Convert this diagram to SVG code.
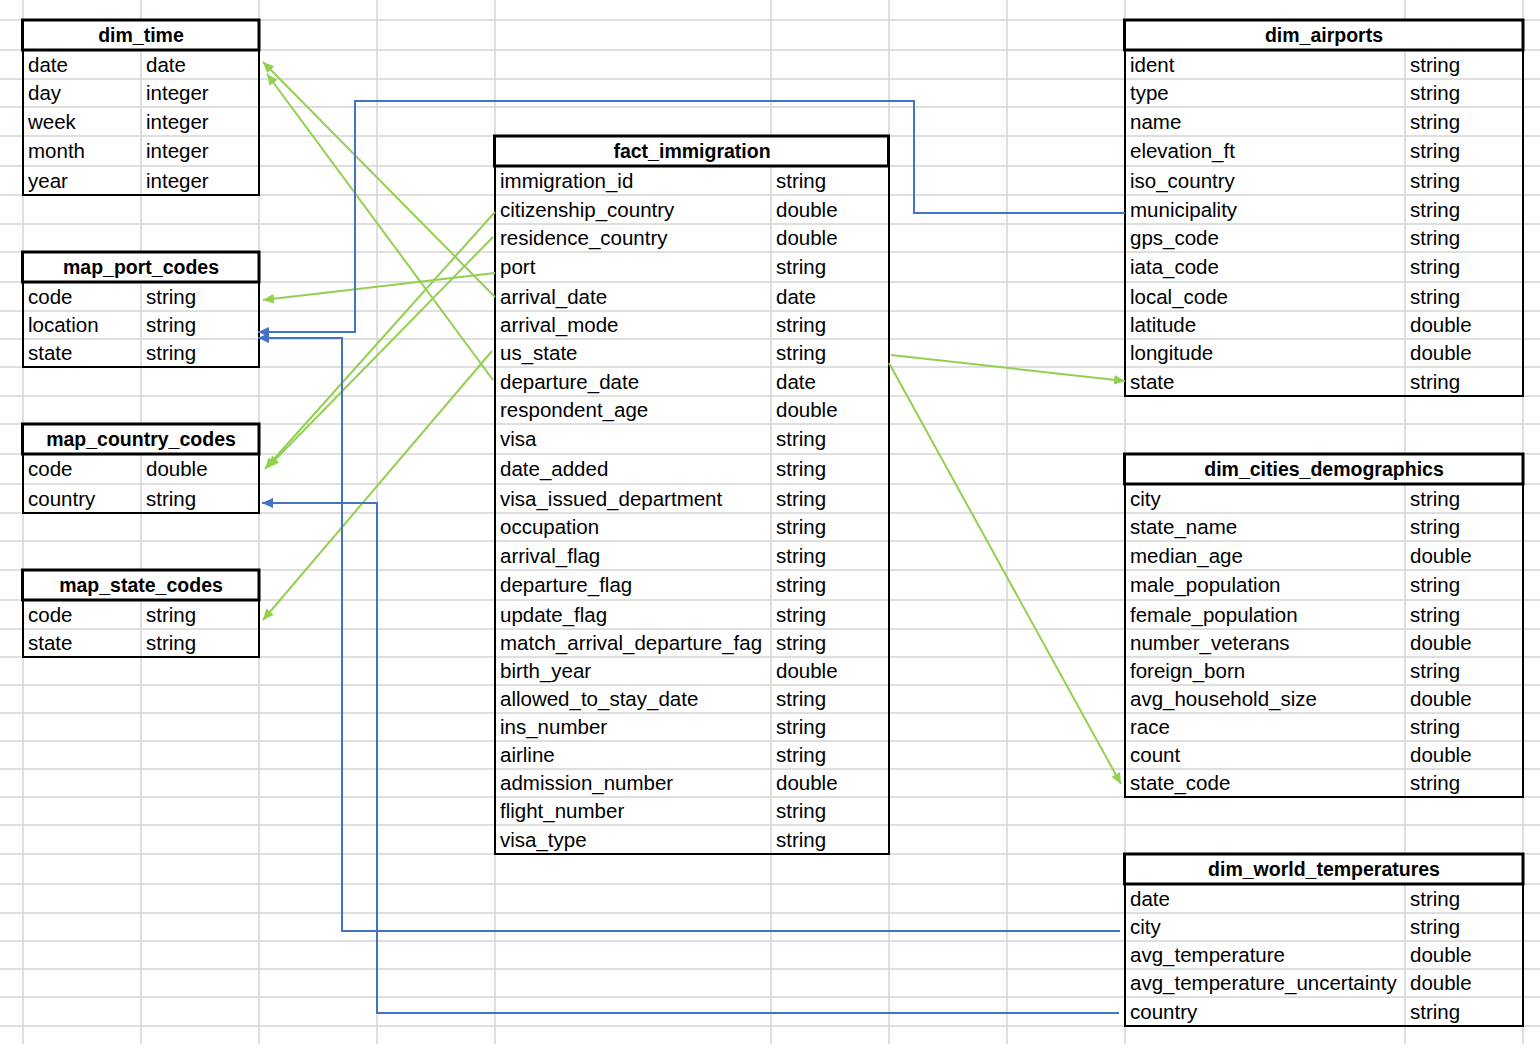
<svg xmlns="http://www.w3.org/2000/svg" width="1540" height="1044" viewBox="0 0 1540 1044">
  <style>
    .grid line { stroke: #d4d4d4; stroke-width: 1.5; }
    .hdr { fill: #ffffff; stroke: #000000; stroke-width: 3; }
    .body { fill: none; stroke: #000000; stroke-width: 2; }
    .t { font-family: "Liberation Sans", Arial, sans-serif; font-size: 20.5px; fill: #000000; }
    .h { font-family: "Liberation Sans", Arial, sans-serif; font-size: 19.5px; font-weight: bold; fill: #000000; text-anchor: middle; }
    .g { stroke: #92d050; stroke-width: 2; fill: none; marker-end: url(#arrowGreen); }
    .b { stroke: #4472c4; stroke-width: 2; fill: none; marker-end: url(#arrowBlue); }
  </style>
  <defs>
    <marker id="arrowGreen" markerUnits="userSpaceOnUse" markerWidth="12" markerHeight="10" refX="11" refY="5" orient="auto">
      <path d="M0,0 L11,5 L0,10 z" fill="#92d050"/>
    </marker>
    <marker id="arrowBlue" markerUnits="userSpaceOnUse" markerWidth="12" markerHeight="10" refX="11" refY="5" orient="auto">
      <path d="M0,0 L11,5 L0,10 z" fill="#4472c4"/>
    </marker>
  </defs>

  <rect x="0" y="0" width="1540" height="1044" fill="#ffffff"/>

  <!-- spreadsheet cell grid -->
  <g id="grid" class="grid">
    <line x1="23" y1="0" x2="23" y2="1044"/>
    <line x1="141" y1="0" x2="141" y2="1044"/>
    <line x1="259" y1="0" x2="259" y2="1044"/>
    <line x1="377" y1="0" x2="377" y2="1044"/>
    <line x1="495" y1="0" x2="495" y2="1044"/>
    <line x1="771" y1="0" x2="771" y2="1044"/>
    <line x1="889" y1="0" x2="889" y2="1044"/>
    <line x1="1007" y1="0" x2="1007" y2="1044"/>
    <line x1="1125" y1="0" x2="1125" y2="1044"/>
    <line x1="1405" y1="0" x2="1405" y2="1044"/>
    <line x1="1523" y1="0" x2="1523" y2="1044"/>
    <line x1="0" y1="20" x2="1540" y2="20"/>
    <line x1="0" y1="50" x2="1540" y2="50"/>
    <line x1="0" y1="79" x2="1540" y2="79"/>
    <line x1="0" y1="107" x2="1540" y2="107"/>
    <line x1="0" y1="136" x2="1540" y2="136"/>
    <line x1="0" y1="166" x2="1540" y2="166"/>
    <line x1="0" y1="195" x2="1540" y2="195"/>
    <line x1="0" y1="224" x2="1540" y2="224"/>
    <line x1="0" y1="252" x2="1540" y2="252"/>
    <line x1="0" y1="282" x2="1540" y2="282"/>
    <line x1="0" y1="311" x2="1540" y2="311"/>
    <line x1="0" y1="339" x2="1540" y2="339"/>
    <line x1="0" y1="367" x2="1540" y2="367"/>
    <line x1="0" y1="396" x2="1540" y2="396"/>
    <line x1="0" y1="424" x2="1540" y2="424"/>
    <line x1="0" y1="454" x2="1540" y2="454"/>
    <line x1="0" y1="484" x2="1540" y2="484"/>
    <line x1="0" y1="513" x2="1540" y2="513"/>
    <line x1="0" y1="541" x2="1540" y2="541"/>
    <line x1="0" y1="570" x2="1540" y2="570"/>
    <line x1="0" y1="600" x2="1540" y2="600"/>
    <line x1="0" y1="629" x2="1540" y2="629"/>
    <line x1="0" y1="657" x2="1540" y2="657"/>
    <line x1="0" y1="685" x2="1540" y2="685"/>
    <line x1="0" y1="713" x2="1540" y2="713"/>
    <line x1="0" y1="741" x2="1540" y2="741"/>
    <line x1="0" y1="769" x2="1540" y2="769"/>
    <line x1="0" y1="797" x2="1540" y2="797"/>
    <line x1="0" y1="825" x2="1540" y2="825"/>
    <line x1="0" y1="854" x2="1540" y2="854"/>
    <line x1="0" y1="884" x2="1540" y2="884"/>
    <line x1="0" y1="913" x2="1540" y2="913"/>
    <line x1="0" y1="941" x2="1540" y2="941"/>
    <line x1="0" y1="969" x2="1540" y2="969"/>
    <line x1="0" y1="997" x2="1540" y2="997"/>
    <line x1="0" y1="1026" x2="1540" y2="1026"/>
  </g>

  <!-- dim_time -->
  <g id="dim_time">
    <rect class="hdr" x="22.5" y="20" width="236.5" height="30"/>
    <text class="h" x="141" y="42">dim_time</text>
    <rect class="body" x="23" y="50" width="236" height="145"/>
    <text class="t" x="28" y="71.5">date</text><text class="t" x="146" y="71.5">date</text>
    <text class="t" x="28" y="100">day</text><text class="t" x="146" y="100">integer</text>
    <text class="t" x="28" y="128.5">week</text><text class="t" x="146" y="128.5">integer</text>
    <text class="t" x="28" y="158">month</text><text class="t" x="146" y="158">integer</text>
    <text class="t" x="28" y="187.5">year</text><text class="t" x="146" y="187.5">integer</text>
  </g>

  <!-- map_port_codes -->
  <g id="map_port_codes">
    <rect class="hdr" x="22.5" y="252" width="236.5" height="30"/>
    <text class="h" x="141" y="274">map_port_codes</text>
    <rect class="body" x="23" y="282" width="236" height="85"/>
    <text class="t" x="28" y="303.5">code</text><text class="t" x="146" y="303.5">string</text>
    <text class="t" x="28" y="332">location</text><text class="t" x="146" y="332">string</text>
    <text class="t" x="28" y="360">state</text><text class="t" x="146" y="360">string</text>
  </g>

  <!-- map_country_codes -->
  <g id="map_country_codes">
    <rect class="hdr" x="22.5" y="424" width="236.5" height="30"/>
    <text class="h" x="141" y="446">map_country_codes</text>
    <rect class="body" x="23" y="454" width="236" height="59"/>
    <text class="t" x="28" y="476">code</text><text class="t" x="146" y="476">double</text>
    <text class="t" x="28" y="505.5">country</text><text class="t" x="146" y="505.5">string</text>
  </g>

  <!-- map_state_codes -->
  <g id="map_state_codes">
    <rect class="hdr" x="22.5" y="570" width="236.5" height="30"/>
    <text class="h" x="141" y="592">map_state_codes</text>
    <rect class="body" x="23" y="600" width="236" height="57"/>
    <text class="t" x="28" y="621.5">code</text><text class="t" x="146" y="621.5">string</text>
    <text class="t" x="28" y="650">state</text><text class="t" x="146" y="650">string</text>
  </g>

  <!-- fact_immigration -->
  <g id="fact_immigration">
    <rect class="hdr" x="494.5" y="136" width="394" height="30"/>
    <text class="h" x="692" y="158">fact_immigration</text>
    <rect class="body" x="495" y="166" width="394" height="688"/>
    <text class="t" x="500" y="187.5">immigration_id</text><text class="t" x="776" y="187.5">string</text>
    <text class="t" x="500" y="216.5">citizenship_country</text><text class="t" x="776" y="216.5">double</text>
    <text class="t" x="500" y="245">residence_country</text><text class="t" x="776" y="245">double</text>
    <text class="t" x="500" y="274">port</text><text class="t" x="776" y="274">string</text>
    <text class="t" x="500" y="303.5">arrival_date</text><text class="t" x="776" y="303.5">date</text>
    <text class="t" x="500" y="332">arrival_mode</text><text class="t" x="776" y="332">string</text>
    <text class="t" x="500" y="360">us_state</text><text class="t" x="776" y="360">string</text>
    <text class="t" x="500" y="388.5">departure_date</text><text class="t" x="776" y="388.5">date</text>
    <text class="t" x="500" y="417">respondent_age</text><text class="t" x="776" y="417">double</text>
    <text class="t" x="500" y="446">visa</text><text class="t" x="776" y="446">string</text>
    <text class="t" x="500" y="476">date_added</text><text class="t" x="776" y="476">string</text>
    <text class="t" x="500" y="505.5">visa_issued_department</text><text class="t" x="776" y="505.5">string</text>
    <text class="t" x="500" y="534">occupation</text><text class="t" x="776" y="534">string</text>
    <text class="t" x="500" y="562.5">arrival_flag</text><text class="t" x="776" y="562.5">string</text>
    <text class="t" x="500" y="592">departure_flag</text><text class="t" x="776" y="592">string</text>
    <text class="t" x="500" y="621.5">update_flag</text><text class="t" x="776" y="621.5">string</text>
    <text class="t" x="500" y="650">match_arrival_departure_fag</text><text class="t" x="776" y="650">string</text>
    <text class="t" x="500" y="678">birth_year</text><text class="t" x="776" y="678">double</text>
    <text class="t" x="500" y="706">allowed_to_stay_date</text><text class="t" x="776" y="706">string</text>
    <text class="t" x="500" y="734">ins_number</text><text class="t" x="776" y="734">string</text>
    <text class="t" x="500" y="762">airline</text><text class="t" x="776" y="762">string</text>
    <text class="t" x="500" y="790">admission_number</text><text class="t" x="776" y="790">double</text>
    <text class="t" x="500" y="818">flight_number</text><text class="t" x="776" y="818">string</text>
    <text class="t" x="500" y="846.5">visa_type</text><text class="t" x="776" y="846.5">string</text>
  </g>

  <!-- dim_airports -->
  <g id="dim_airports">
    <rect class="hdr" x="1124.5" y="20" width="398.5" height="30"/>
    <text class="h" x="1324" y="42">dim_airports</text>
    <rect class="body" x="1125" y="50" width="398" height="346"/>
    <text class="t" x="1130" y="71.5">ident</text><text class="t" x="1410" y="71.5">string</text>
    <text class="t" x="1130" y="100">type</text><text class="t" x="1410" y="100">string</text>
    <text class="t" x="1130" y="128.5">name</text><text class="t" x="1410" y="128.5">string</text>
    <text class="t" x="1130" y="158">elevation_ft</text><text class="t" x="1410" y="158">string</text>
    <text class="t" x="1130" y="187.5">iso_country</text><text class="t" x="1410" y="187.5">string</text>
    <text class="t" x="1130" y="216.5">municipality</text><text class="t" x="1410" y="216.5">string</text>
    <text class="t" x="1130" y="245">gps_code</text><text class="t" x="1410" y="245">string</text>
    <text class="t" x="1130" y="274">iata_code</text><text class="t" x="1410" y="274">string</text>
    <text class="t" x="1130" y="303.5">local_code</text><text class="t" x="1410" y="303.5">string</text>
    <text class="t" x="1130" y="332">latitude</text><text class="t" x="1410" y="332">double</text>
    <text class="t" x="1130" y="360">longitude</text><text class="t" x="1410" y="360">double</text>
    <text class="t" x="1130" y="388.5">state</text><text class="t" x="1410" y="388.5">string</text>
  </g>

  <!-- dim_cities_demographics -->
  <g id="dim_cities_demographics">
    <rect class="hdr" x="1124.5" y="454" width="398.5" height="30"/>
    <text class="h" x="1324" y="476">dim_cities_demographics</text>
    <rect class="body" x="1125" y="484" width="398" height="313"/>
    <text class="t" x="1130" y="505.5">city</text><text class="t" x="1410" y="505.5">string</text>
    <text class="t" x="1130" y="534">state_name</text><text class="t" x="1410" y="534">string</text>
    <text class="t" x="1130" y="562.5">median_age</text><text class="t" x="1410" y="562.5">double</text>
    <text class="t" x="1130" y="592">male_population</text><text class="t" x="1410" y="592">string</text>
    <text class="t" x="1130" y="621.5">female_population</text><text class="t" x="1410" y="621.5">string</text>
    <text class="t" x="1130" y="650">number_veterans</text><text class="t" x="1410" y="650">double</text>
    <text class="t" x="1130" y="678">foreign_born</text><text class="t" x="1410" y="678">string</text>
    <text class="t" x="1130" y="706">avg_household_size</text><text class="t" x="1410" y="706">double</text>
    <text class="t" x="1130" y="734">race</text><text class="t" x="1410" y="734">string</text>
    <text class="t" x="1130" y="762">count</text><text class="t" x="1410" y="762">double</text>
    <text class="t" x="1130" y="790">state_code</text><text class="t" x="1410" y="790">string</text>
  </g>

  <!-- dim_world_temperatures -->
  <g id="dim_world_temperatures">
    <rect class="hdr" x="1124.5" y="854" width="398.5" height="30"/>
    <text class="h" x="1324" y="876">dim_world_temperatures</text>
    <rect class="body" x="1125" y="884" width="398" height="142"/>
    <text class="t" x="1130" y="905.5">date</text><text class="t" x="1410" y="905.5">string</text>
    <text class="t" x="1130" y="934">city</text><text class="t" x="1410" y="934">string</text>
    <text class="t" x="1130" y="962">avg_temperature</text><text class="t" x="1410" y="962">double</text>
    <text class="t" x="1130" y="990">avg_temperature_uncertainty</text><text class="t" x="1410" y="990">double</text>
    <text class="t" x="1130" y="1018.5">country</text><text class="t" x="1410" y="1018.5">string</text>
  </g>

  <!-- relationships -->
  <g id="connectors">
    <path class="g" d="M495,297 L263,62"/>
    <path class="g" d="M493,380 L267,74"/>
    <path class="g" d="M495,273 L263,300"/>
    <path class="g" d="M495,212 L265,469"/>
    <path class="g" d="M493,237 L268,467"/>
    <path class="g" d="M492,351 L263,620"/>
    <path class="g" d="M891,355 L1125,381"/>
    <path class="g" d="M889,363 L1121,784"/>
    <path class="b" d="M1125,213 H914 V101 H355 V332 H258"/>
    <path class="b" d="M1120,931 H342 V338 H258"/>
    <path class="b" d="M1119,1013 H377 V503 H262"/>
  </g>
</svg>
